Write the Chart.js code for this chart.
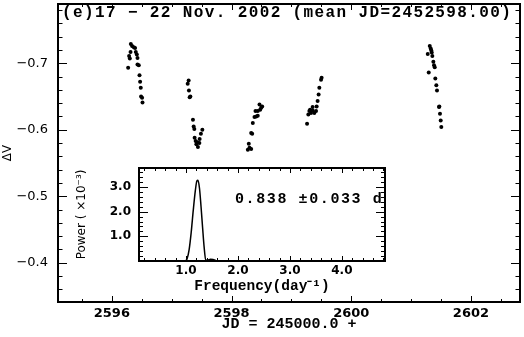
<!DOCTYPE html>
<html><head><meta charset="utf-8">
<script src="https://cdn.jsdelivr.net/npm/chart.js@4"></script>
<style>
html,body{margin:0;padding:0;background:#fff;}
#wrap{position:relative;width:524px;height:337px;}
#main{position:absolute;left:0;top:0;}
#inset{position:absolute;left:70px;top:163px;background:#fff;}
</style></head><body>
<div id="wrap"><canvas id="main" width="524" height="337"></canvas><canvas id="inset" width="322" height="133"></canvas></div>
<script>
// ---- data: light curve (JD - 2450000, delta V), one array pair per night ----
const night1JD = [2596.317,2596.338,2596.367,2596.388,2596.312,2596.400,2596.288,2596.417,2596.300,2596.428,2596.272,2596.428,2596.450,2596.462,2596.472,2596.483,2596.488,2596.505,2596.512];
const night1DV = [-0.729,-0.726,-0.724,-0.723,-0.717,-0.717,-0.711,-0.713,-0.707,-0.708,-0.693,-0.698,-0.697,-0.682,-0.672,-0.663,-0.650,-0.648,-0.641];
const night2JD = [2597.283,2597.267,2597.288,2597.312,2597.300,2597.355,2597.367,2597.378,2597.512,2597.488,2597.383,2597.467,2597.400,2597.428,2597.462,2597.412,2597.438];
const night2DV = [-0.674,-0.669,-0.659,-0.650,-0.649,-0.615,-0.605,-0.601,-0.600,-0.594,-0.588,-0.586,-0.583,-0.581,-0.580,-0.578,-0.574];
const night3JD = [2598.272,2598.300,2598.328,2598.288,2598.328,2598.345,2598.355,2598.383,2598.412,2598.400,2598.438,2598.438,2598.467,2598.495,2598.512,2598.478];
const night3DV = [-0.570,-0.573,-0.571,-0.579,-0.595,-0.594,-0.610,-0.619,-0.620,-0.628,-0.628,-0.621,-0.638,-0.633,-0.635,-0.630];
const night4JD = [2599.262,2599.283,2599.300,2599.328,2599.312,2599.355,2599.383,2599.412,2599.355,2599.422,2599.438,2599.455,2599.467,2599.495,2599.505];
const night4DV = [-0.609,-0.623,-0.628,-0.625,-0.630,-0.629,-0.625,-0.628,-0.634,-0.635,-0.643,-0.653,-0.663,-0.675,-0.678];
const night5JD = [2601.312,2601.328,2601.338,2601.345,2601.278,2601.355,2601.372,2601.383,2601.395,2601.295,2601.405,2601.422,2601.433,2601.472,2601.467,2601.483,2601.495,2601.505];
const night5DV = [-0.726,-0.722,-0.719,-0.716,-0.714,-0.711,-0.702,-0.697,-0.694,-0.686,-0.677,-0.667,-0.659,-0.635,-0.634,-0.624,-0.614,-0.604];

// ---- data: power spectrum (frequency in day^-1, power x10^-3) ----
const freq  = [0.10,0.50,0.98,1.02,1.06,1.10,1.14,1.18,1.21,1.23,1.26,1.29,1.32,1.35,1.38,1.42,1.47,1.52,1.57,1.61,2.50,3.50,4.83];
const power = [0,0,0,0.08,0.45,1.15,2.05,2.85,3.25,3.27,2.95,2.20,1.35,0.55,0.05,0.03,0.07,0.06,0.02,0,0,0,0];

// ---- tick labels ----
const jdTicks = [2596,2598,2600,2602];
const dvTicks = [-0.7,-0.6,-0.5,-0.4];
const freqTicks = [1,2,3,4];
const powerTicks = [1,2,3];

const titleText = '(e)17 \u2212 22 Nov. 2002 (mean JD=2452598.00)';
const periodText = '0.838 \u00b10.033 d';

function range(a,b,s){const r=[];for(let v=a;v<=b+1e-9;v+=s)r.push(Math.round(v*1000)/1000);return r;}
function pairs(xs,ys){return xs.map((v,i)=>({x:v,y:ys[i]}));}
function fixV(w){return s=>{s.width=w;s.paddingTop=0;s.paddingBottom=0;};}
function fixH(h){return s=>{s.height=h;s.paddingLeft=0;s.paddingRight=0;};}

const frameTicks = {
  id:'frameTicks',
  afterDatasetsDraw(chart,args,o){
    const ctx=chart.ctx,a=chart.chartArea,x=chart.scales.x,y=chart.scales.y;
    ctx.save();
    ctx.strokeStyle='#000';ctx.lineWidth=1;ctx.beginPath();
    const xt=(vals,len)=>vals.forEach(v=>{const p=Math.round(x.getPixelForValue(v))+0.5;if(p<a.left+1||p>a.right-1)return;ctx.moveTo(p,a.bottom);ctx.lineTo(p,a.bottom-len);ctx.moveTo(p,a.top);ctx.lineTo(p,a.top+len);});
    const yt=(vals,len)=>vals.forEach(v=>{const p=Math.round(y.getPixelForValue(v))+0.5;if(p<a.top+1||p>a.bottom-1)return;ctx.moveTo(a.left,p);ctx.lineTo(a.left+len,p);ctx.moveTo(a.right,p);ctx.lineTo(a.right-len,p);});
    xt(o.xMajor,o.xLen[0]);xt(o.xMinor,o.xLen[1]);yt(o.yMajor,o.yLen[0]);yt(o.yMinor,o.yLen[1]);
    ctx.stroke();
    ctx.lineWidth=o.frameWidth;
    ctx.strokeRect(a.left,a.top,a.right-a.left,a.bottom-a.top);
    (o.texts||[]).forEach(t=>{ctx.font=t.font;ctx.fillStyle='#000';ctx.textAlign='left';ctx.textBaseline='middle';ctx.letterSpacing=t.ls||'0px';ctx.fillText(t.text,t.x,t.y);ctx.letterSpacing='0px';});
    ctx.restore();
  }
};

Chart.defaults.font.family = "'DejaVu Sans', sans-serif";
Chart.defaults.color = '#000';

new Chart(document.getElementById('main'),{
  type:'scatter',
  data:{datasets:[{
    data:[...pairs(night1JD,night1DV),...pairs(night2JD,night2DV),...pairs(night3JD,night3DV),...pairs(night4JD,night4DV),...pairs(night5JD,night5DV)],
    backgroundColor:'#000',borderColor:'#000',pointRadius:2,pointBorderWidth:0
  }]},
  options:{
    responsive:false,animation:false,
    layout:{padding:{top:2,right:3,left:0,bottom:0}},
    plugins:{legend:{display:false},tooltip:{enabled:false},
      frameTicks:{xMajor:jdTicks,xMinor:range(2595.5,2602.5,0.5),yMajor:dvTicks,yMinor:range(-0.78,-0.36,0.02),xLen:[6,3],yLen:[9,4.5],frameWidth:2,
        texts:[{text:titleText,x:62,y:13,font:"bold 16px 'Liberation Mono'",ls:'1.38px'}]}},
    scales:{
      x:{type:'linear',min:2595.1,max:2602.82,
        afterBuildTicks:s=>{s.ticks=jdTicks.map(v=>({value:v}));},
        afterFit:fixH(35),
        grid:{display:false,drawTicks:false},border:{display:false},
        ticks:{padding:4,font:{size:13,weight:'bold'},maxRotation:0,callback:v=>String(v)},
        title:{display:true,text:'JD = 245000.0 +',font:{family:"'Liberation Mono'",size:15,weight:'bold'},padding:{top:0,bottom:4}}},
      y:{type:'linear',min:-0.789,max:-0.341,reverse:true,
        afterBuildTicks:s=>{s.ticks=dvTicks.map(v=>({value:v}));},
        afterFit:fixV(58),
        grid:{display:false,drawTicks:false},border:{display:false},
        ticks:{padding:10,font:{size:13},callback:v=>'\u2212'+Math.abs(v).toFixed(1)},
        title:{display:true,text:'\u0394V',font:{size:12},padding:{top:1,bottom:0}}}
    }
  },
  plugins:[frameTicks]
});

new Chart(document.getElementById('inset'),{
  type:'line',
  data:{datasets:[{data:pairs(freq,power),borderColor:'#000',borderWidth:1.5,pointRadius:0,fill:false,cubicInterpolationMode:'monotone'}]},
  options:{
    responsive:false,animation:false,
    layout:{padding:{top:5,right:7,left:0,bottom:0}},
    plugins:{legend:{display:false},tooltip:{enabled:false},
      frameTicks:{xMajor:freqTicks,xMinor:range(0.2,4.8,0.2),yMajor:powerTicks,yMinor:range(0.2,3.6,0.2),xLen:[5,3],yLen:[9,4],frameWidth:2,
        texts:[{text:periodText,x:165,y:36,font:"bold 15px 'Liberation Mono'",ls:'1.6px'}]}},
    scales:{
      x:{type:'linear',min:0.096,max:4.83,
        afterBuildTicks:s=>{s.ticks=freqTicks.map(v=>({value:v}));},
        afterFit:fixH(35),
        grid:{display:false,drawTicks:false},border:{display:false},
        ticks:{padding:3,font:{size:12,weight:'bold'},maxRotation:0,callback:v=>v.toFixed(1)},
        title:{display:true,text:'Frequency(day\u207b\u00b9)',font:{family:"'Liberation Mono'",size:14.5,weight:'bold'},padding:{top:0,bottom:1}}},
      y:{type:'linear',min:0,max:3.77,
        afterBuildTicks:s=>{s.ticks=powerTicks.map(v=>({value:v}));},
        afterFit:fixV(69),
        grid:{display:false,drawTicks:false},border:{display:false},
        ticks:{padding:8,font:{size:12,weight:'bold'},callback:v=>v.toFixed(1)},
        title:{display:true,text:'Power ( \u00d710\u207b\u00b3)',font:{size:12},padding:{top:5,bottom:0}}}
    }
  },
  plugins:[frameTicks]
});
</script>
</body></html>
